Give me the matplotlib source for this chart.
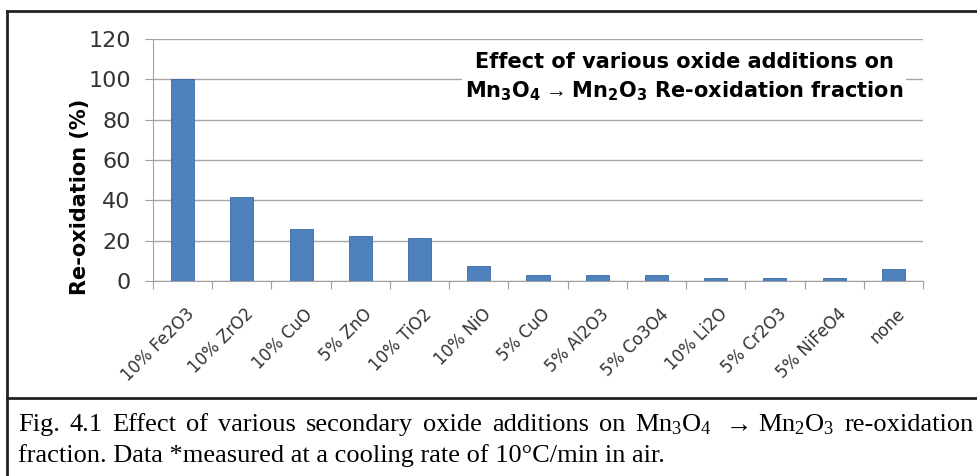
import matplotlib
matplotlib.use('Agg')
import matplotlib.pyplot as plt
from matplotlib.lines import Line2D

plt.rcParams['mathtext.fontset'] = 'custom'
plt.rcParams['mathtext.rm'] = 'Liberation Serif'
plt.rcParams['mathtext.it'] = 'Liberation Serif:italic'
plt.rcParams['mathtext.bf'] = 'DejaVu Sans:bold'

categories = ['10% Fe2O3', '10% ZrO2', '10% CuO', '5% ZnO', '10% TiO2', '10% NiO',
              '5% CuO', '5% Al2O3', '5% Co3O4', '10% Li2O', '5% Cr2O3', '5% NiFeO4', 'none']
reoxidation = [100, 41.6, 25.6, 22.5, 21.5, 7.4, 2.8, 2.8, 2.8, 1.3, 1.3, 1.3, 5.8]
y_ticks = [0, 20, 40, 60, 80, 100, 120]

caption1 = ['Fig.', '4.1', 'Effect', 'of', 'various', 'secondary', 'oxide', 'additions', 'on',
            r'Mn$_3$O$_4$', r'$\rightarrow$', r'Mn$_2$O$_3$', 're-oxidation']
caption2 = 'fraction. Data *measured at a cooling rate of 10\u00b0C/min in air.'

W, H = 977, 476
fig = plt.figure(figsize=(W / 100, H / 100), dpi=100)
ax = fig.add_axes([153 / W, 1 - 281 / H, (923 - 153) / W, (281 - 39) / H])

x = list(range(len(categories)))
ax.bar(x, reoxidation, width=0.39, color='#4F81BD', edgecolor='#3A6A9E', linewidth=0.6, zorder=3)

ax.set_xlim(-0.5, len(categories) - 0.5)
ax.set_ylim(0, 120)
ax.set_yticks(y_ticks)
ax.tick_params(axis='y', labelsize=16, length=6, color='#A0A0A0', labelcolor='#333333', pad=10)
ax.grid(axis='y', color='#A6A6A6', linewidth=1.0, zorder=0)

# ticks between categories
ax.set_xticks([i - 0.5 for i in range(len(categories) + 1)])
ax.set_xticklabels([])
ax.tick_params(axis='x', length=6, color='#A0A0A0', direction='out')
for i, lab in enumerate(categories):
    ax.text(i + 0.05, -12, lab, rotation=45, ha='right', va='top', fontsize=12,
            color='#333333', rotation_mode='anchor')

for side in ['top', 'right']:
    ax.spines[side].set_visible(False)
ax.spines['left'].set_color('#A0A0A0')
ax.spines['bottom'].set_color('#A0A0A0')

ax.set_ylabel('Re-oxidation (%)', fontsize=15, fontweight='bold')
ax.yaxis.set_label_coords(-0.082, 0.347)

ax.text(0.69, 0.843,
        'Effect of various oxide additions on\n'
        r'Mn$_\mathbf{3}$O$_\mathbf{4}$$\,\rightarrow\,$Mn$_\mathbf{2}$O$_\mathbf{3}$ Re-oxidation fraction',
        transform=ax.transAxes, ha='center', va='center', fontsize=15, fontweight='bold',
        linespacing=1.4, bbox=dict(facecolor='white', edgecolor='none', pad=2), zorder=5)

# frame around chart and caption
lw = 2
fig.add_artist(Line2D([7 / W, 7 / W], [1 - 11 / H, 0], transform=fig.transFigure, color='#222222', lw=lw))
fig.add_artist(Line2D([7 / W, 1], [1 - 11 / H, 1 - 11 / H], transform=fig.transFigure, color='#222222', lw=lw))
fig.add_artist(Line2D([7 / W, 1], [1 - 398 / H, 1 - 398 / H], transform=fig.transFigure, color='#222222', lw=lw))

# caption, first line justified
cap_kw = dict(fontsize=19, family='Liberation Serif', va='baseline', ha='left')
renderer = fig.canvas.get_renderer()
words = [fig.text(0, 1 - 431 / H, w, **cap_kw) for w in caption1]
widths = [t.get_window_extent(renderer).width for t in words]
left, right = 18, 974
gap = (right - left - sum(widths)) / (len(words) - 1)
pos = left
for t, wd in zip(words, widths):
    t.set_x(pos / W)
    pos += wd + gap
fig.text(left / W, 1 - 462 / H, caption2, **cap_kw)

fig.savefig('out.png', dpi=100)
